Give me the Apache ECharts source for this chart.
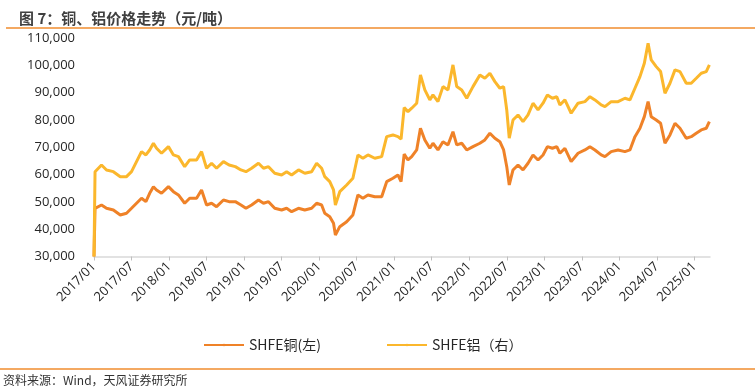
<!DOCTYPE html>
<html><head><meta charset="utf-8">
<script src="https://cdn.jsdelivr.net/npm/echarts@6/dist/echarts.min.js"></script>
<style>html,body{margin:0;padding:0;background:#fff}#c{width:755px;height:392px}</style>
</head><body><div id="c"></div>
<script>
const dates = ["2017/01/01","2017/01/06","2017/02/07","2017/03/01","2017/04/04","2017/05/07","2017/06/07","2017/07/01","2017/07/25","2017/08/19","2017/09/10","2017/09/28","2017/10/16","2017/11/01","2017/11/25","2017/12/28",
"2018/01/22","2018/02/16","2018/03/16","2018/04/10","2018/05/13","2018/06/07","2018/07/01","2018/07/25","2018/08/19","2018/09/22","2018/10/19","2018/11/19","2018/12/16",
"2019/01/10","2019/02/07","2019/03/10","2019/04/04","2019/04/28","2019/05/28","2019/07/01","2019/07/25","2019/08/19","2019/09/22","2019/10/22","2019/11/25","2019/12/19",
"2020/01/13","2020/01/28","2020/02/22","2020/03/10","2020/03/19","2020/04/10","2020/05/13","2020/06/13","2020/07/07","2020/08/01","2020/08/25","2020/09/28","2020/11/01","2020/11/25","2020/12/25",
"2021/01/19","2021/02/04","2021/02/19","2021/03/07","2021/03/25","2021/04/19","2021/05/07","2021/05/28","2021/06/22","2021/07/07","2021/08/01","2021/08/25","2021/09/19","2021/10/13","2021/11/01","2021/11/25","2021/12/19",
"2022/01/19","2022/02/22","2022/03/16","2022/04/10","2022/05/04","2022/05/28","2022/06/16","2022/07/01","2022/07/13","2022/08/01","2022/08/25","2022/09/19","2022/10/13","2022/11/07","2022/12/01","2022/12/25",
"2023/01/16","2023/02/10","2023/03/01","2023/03/16","2023/04/10","2023/05/10","2023/06/13","2023/07/16","2023/08/10","2023/09/04","2023/10/04","2023/10/22","2023/11/22","2023/12/25",
"2024/01/28","2024/02/22","2024/03/16","2024/04/10","2024/05/01","2024/05/19","2024/06/04","2024/06/28","2024/07/19","2024/08/10","2024/09/04","2024/09/28","2024/10/22","2024/11/22","2024/12/16",
"2025/01/10","2025/02/04","2025/02/28","2025/03/13"];

const copper = [30000,47650,48860,47650,47030,45200,45820,47650,49490,51320,50080,53150,55570,54360,53150,55570,
53740,52530,49490,51320,51320,54360,48860,49490,48240,50700,50080,50080,48860,
47650,48860,50700,49490,50080,47650,47030,47650,46410,47650,47030,47650,49490,
48860,45820,44580,42160,37880,40920,42750,45200,52530,51320,52530,51900,51900,57400,58640,
59850,57400,67500,65350,66560,69010,76960,72680,69630,71470,69010,72050,70840,75710,70840,71470,69010,
70220,71470,72680,75130,73300,72050,69010,62890,56190,61690,63520,61690,64140,67180,65350,67180,
70220,69630,70220,67800,69630,64720,67800,69010,70220,69010,67180,66560,68390,69010,
68390,69010,73880,76960,81210,86700,81210,80000,78790,71470,74510,78790,76960,73300,73880,
75130,76350,76960,79380];

const aluminium = [30000,61060,63520,61690,61060,59230,59230,61060,64720,68390,67180,69000,71470,69630,67800,70220,
67180,66560,62890,65350,65350,68390,62310,64140,62310,64720,63520,62890,61690,
61060,62310,64140,62310,62890,60480,59850,61060,59850,61690,60480,61060,64140,
62310,59230,57400,54360,48860,53740,56190,58640,67180,65970,67180,65970,66560,73880,74510,
73880,73000,84500,83040,84290,86120,96480,90990,87330,89160,86700,92200,90990,100150,92200,90990,87950,
92200,96480,95270,97110,94030,91610,92200,83660,73300,80000,81830,79380,81830,86120,83660,86120,
89160,87950,88500,85490,87330,82450,86120,86700,88530,87330,85490,84900,86700,86700,
87950,87330,91610,95860,100770,108100,101980,99520,97700,89780,93440,98320,97700,93440,93440,
95270,97110,97700,100150];

const xTicks = [0,6,12,18,24,30,36,42,48,54,60,66,72,78,84,90,96];

function toM(s){const p=s.split('/').map(Number);return (p[0]-2017)*12+(p[1]-1)+(p[2]-1)/30;}
function fmtM(v){const y=2017+Math.floor(v/12);const m=Math.round(v%12)+1;return y+'/'+(m<10?'0':'')+m;}

const cuData = dates.map((d,i)=>[toM(d),copper[i]]);
const alData = dates.map((d,i)=>[toM(d),aluminium[i]]);

const CU='#EF8228', AL='#FBB72C';
const chart = echarts.init(document.getElementById('c'),null,{renderer:'canvas'});
chart.setOption({
  animation:false,
  textStyle:{fontFamily:'"Open Sans","Noto Sans CJK SC",sans-serif'},
  grid:{left:94,right:45,top:38,bottom:135.5},
  title:{text:'图 7：铜、铝价格走势（元/吨）',left:14,top:6,textStyle:{fontSize:15,fontWeight:'bold',color:'#404040',fontFamily:'"Noto Sans CJK SC",sans-serif'}},
  legend:[
    {data:['SHFE铜(左)'],left:198,top:333,itemWidth:40,itemHeight:3,itemGap:4,textStyle:{fontSize:14,color:'#262626',fontFamily:'"Noto Sans CJK SC",sans-serif'}},
    {data:['SHFE铝（右）'],left:381,top:333,itemWidth:40,itemHeight:3,itemGap:4,textStyle:{fontSize:14,color:'#262626',fontFamily:'"Noto Sans CJK SC",sans-serif'}}
  ],
  graphic:[
    {type:'line',shape:{x1:6,y1:28,x2:755,y2:28},style:{stroke:'#F08C2E',lineWidth:1.5}},
    {type:'line',shape:{x1:0,y1:369,x2:755,y2:369},style:{stroke:'#F08C2E',lineWidth:1.5}},
    {type:'text',left:3,top:374,style:{text:'资料来源：Wind，天风证券研究所',fontSize:12,fill:'#333',fontFamily:'"Noto Sans CJK SC",sans-serif'}}
  ],
  xAxis:{type:'value',min:0,max:98.5,interval:6,
    axisLine:{lineStyle:{color:'#D9D9D9',width:1.5}},
    axisTick:{show:true,length:4,lineStyle:{color:'#BFBFBF'},customValues:xTicks},
    axisLabel:{rotate:45,fontSize:13,color:'#262626',margin:8,customValues:xTicks,formatter:fmtM},
    splitLine:{show:false}},
  yAxis:[
    {type:'value',min:30000,max:110000,interval:10000,
     axisLine:{show:false},axisTick:{show:false},splitLine:{show:false},
     axisLabel:{fontSize:13,color:'#262626',margin:19,formatter:v=>v.toLocaleString('en-US')}},
    {type:'value',min:30000,max:110000,interval:10000,show:false,splitLine:{show:false}}
  ],
  series:[
    {name:'SHFE铜(左)',type:'line',yAxisIndex:0,data:cuData,symbol:'none',lineStyle:{color:CU,width:3},itemStyle:{color:CU}},
    {name:'SHFE铝（右）',type:'line',yAxisIndex:1,data:alData,symbol:'none',lineStyle:{color:AL,width:3},itemStyle:{color:AL}}
  ]
});
</script></body></html>
